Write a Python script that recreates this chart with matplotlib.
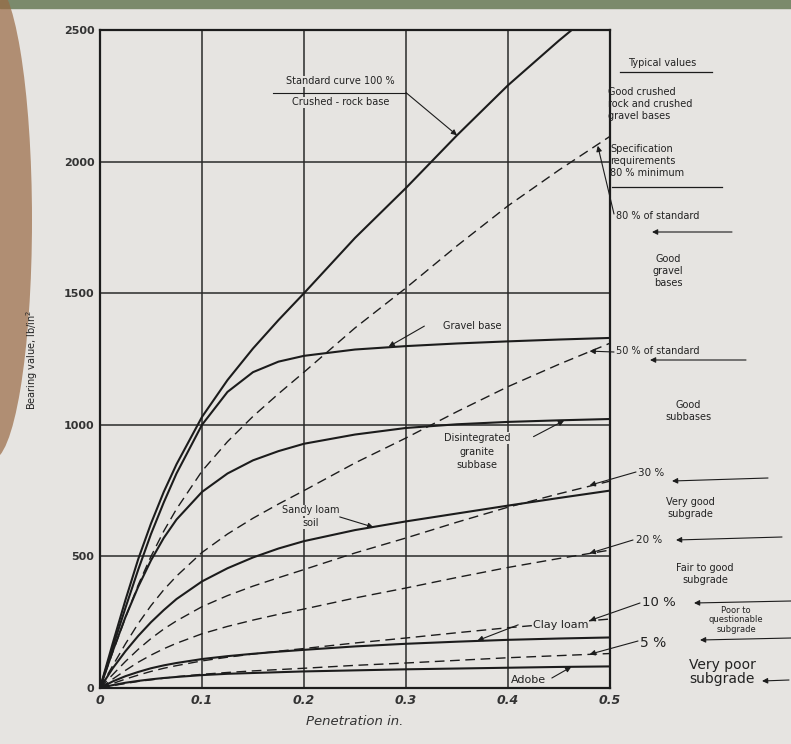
import matplotlib.pyplot as plt
from matplotlib.patches import Rectangle, Ellipse
from matplotlib.lines import Line2D

# penetration (in.) where the curves were read
pen = [0, 0.0125, 0.025, 0.0375, 0.05, 0.0625, 0.075, 0.1, 0.125, 0.15, 0.175,
       0.2, 0.25, 0.3, 0.35, 0.4, 0.45, 0.5]

# solid curves, bearing value lb/in^2
standard = [0, 170, 335, 490, 625, 745, 850, 1030, 1170, 1290, 1398,
            1500, 1710, 1900, 2100, 2290, 2460, 2620]
gravel_base = [0, 155, 305, 450, 585, 705, 815, 1000, 1125, 1200, 1240,
               1262, 1286, 1299, 1309, 1317, 1324, 1330]
granite_subbase = [0, 140, 270, 385, 485, 570, 640, 745, 815, 865, 900,
                   928, 963, 988, 1002, 1011, 1017, 1022]
sandy_loam = [0, 75, 140, 198, 250, 296, 338, 405, 455, 496, 530,
              558, 600, 633, 663, 693, 722, 750]
clay_loam = [0, 25, 45, 61, 75, 86, 95, 110, 121, 130, 138,
             145, 158, 168, 176, 183, 188, 192]
adobe = [0, 11, 20, 27, 33, 38, 42, 49, 54, 57, 60,
         63, 67, 71, 74, 77, 80, 82]

# dashed curves, percent of standard
pct80 = [0, 136, 268, 392, 500, 596, 680, 824, 936, 1032, 1118,
         1200, 1368, 1520, 1680, 1832, 1968, 2096]
pct50 = [0, 85, 168, 245, 313, 373, 425, 515, 585, 645, 699,
         750, 855, 950, 1050, 1145, 1230, 1310]
pct30 = [0, 51, 101, 147, 188, 224, 255, 309, 351, 387, 419,
         450, 513, 570, 630, 687, 738, 786]
pct20 = [0, 34, 67, 98, 125, 149, 170, 206, 234, 258, 280,
         300, 342, 380, 420, 458, 492, 524]
pct10 = [0, 17, 34, 49, 63, 75, 85, 103, 117, 129, 140,
         150, 171, 190, 210, 229, 246, 262]
pct5 = [0, 9, 17, 25, 31, 37, 43, 52, 59, 65, 70,
        75, 86, 95, 105, 115, 123, 131]

yticks = [0, 500, 1000, 1500, 2000, 2500]
xticks = [0, 0.1, 0.2, 0.3, 0.4, 0.5]

W, H = 791, 744
paper = '#e6e4e1'
ink = '#1c1c1c'


def fp(x, y):
    # figure pixel (from top-left) -> figure fraction
    return (x / W, 1 - y / H)


fig = plt.figure(figsize=(W / 100, H / 100), dpi=100)
fig.patch.set_facecolor(paper)
fig.patches.append(Rectangle((0, 1 - 8 / H), 1, 8 / H, transform=fig.transFigure,
                             color='#7b8a6c', zorder=0))
fig.patches.append(Ellipse(fp(-8, 220), 80 / W, 480 / H, transform=fig.transFigure,
                           color='#9a6a44', alpha=0.7, lw=0, zorder=0))

ax = fig.add_axes([100 / W, 1 - 688 / H, 510 / W, 658 / H])
ax.set_facecolor(paper)
ax.set_xlim(0, 0.5)
ax.set_ylim(0, 2500)

for v in yticks[1:-1]:
    ax.axhline(v, color='#2a2a2a', lw=1.1, zorder=1)
for v in xticks[1:-1]:
    ax.axvline(v, color='#2a2a2a', lw=1.1, zorder=1)
for s in ax.spines.values():
    s.set_linewidth(1.6)
    s.set_color(ink)

solid_kw = dict(color=ink, lw=1.5, zorder=3, solid_joinstyle='round')
dash_kw = dict(color=ink, lw=1.0, ls=(0, (7, 4)), zorder=3)
for ys in [standard, gravel_base, granite_subbase, sandy_loam, clay_loam, adobe]:
    ax.plot(pen, ys, **solid_kw)
for ys in [pct80, pct50, pct30, pct20, pct10, pct5]:
    ax.plot(pen, ys, **dash_kw)

ax.set_xticks(xticks)
ax.set_yticks(yticks)
ax.set_xticklabels(['0', '0.1', '0.2', '0.3', '0.4', '0.5'], fontstyle='italic',
                   fontsize=9, fontweight='bold', color='#333')
ax.set_yticklabels([str(v) for v in yticks], fontsize=8, fontweight='bold', color='#333')
ax.tick_params(length=0, pad=4)
ax.set_xlabel('Penetration in.', fontstyle='italic', fontsize=9.5, color='#333', labelpad=6)
fig.text(*fp(32, 360), 'Bearing value, lb/in$^2$', rotation=90, fontsize=7,
         ha='center', va='center', color='#222')

box = dict(facecolor=paper, edgecolor='none', pad=0.5)
arrow = dict(arrowstyle='-|>', color=ink, lw=0.8, mutation_scale=8, shrinkA=0, shrinkB=0)
tkw = dict(fontsize=7, color='#222', ha='center', va='center', zorder=5)

# labels inside the plot
ax.text(0.236, 2305, 'Standard curve 100 %', bbox=box, **tkw)
ax.text(0.236, 2225, 'Crushed - rock base', bbox=box, **tkw)
ax.plot([0.17, 0.30], [2262, 2262], color=ink, lw=0.8, zorder=5)
ax.annotate('', xy=(0.35, 2100), xytext=(0.30, 2262), arrowprops=arrow,
            annotation_clip=False)

ax.text(0.365, 1375, 'Gravel base', bbox=box, **tkw)
ax.annotate('', xy=(0.283, 1297), xytext=(0.318, 1375), arrowprops=arrow)

ax.text(0.37, 950, 'Disintegrated', bbox=box, **tkw)
ax.text(0.37, 896, 'granite', bbox=box, **tkw)
ax.text(0.37, 846, 'subbase', bbox=box, **tkw)
ax.annotate('', xy=(0.455, 1016), xytext=(0.425, 955), arrowprops=arrow)

ax.text(0.207, 675, 'Sandy loam', bbox=box, **tkw)
ax.text(0.207, 625, 'soil', bbox=box, **tkw)
ax.annotate('', xy=(0.268, 611), xytext=(0.235, 650), arrowprops=arrow)

ax.text(0.452, 240, 'Clay loam', bbox=box, fontsize=8, color='#222', ha='center',
        va='center', zorder=5)
ax.annotate('', xy=(0.37, 180), xytext=(0.41, 240), arrowprops=arrow)

ax.text(0.42, 32, 'Adobe', bbox=box, fontsize=8, color='#222', ha='center',
        va='center', zorder=5)
ax.annotate('', xy=(0.462, 80), xytext=(0.443, 38), arrowprops=arrow)

# right-hand column
rkw = dict(fontsize=7, color='#222', ha='center', va='center')
fig.text(*fp(662, 63), 'Typical values', **rkw)
fig.add_artist(Line2D([620 / W, 712 / W], [1 - 72 / H] * 2, color=ink, lw=0.9))
fig.text(*fp(608, 104), 'Good crushed\nrock and crushed\ngravel bases', fontsize=7,
         color='#222', ha='left', va='center', linespacing=1.25)
fig.text(*fp(610, 161), 'Specification\nrequirements\n80 % minimum', fontsize=7,
         color='#222', ha='left', va='center', linespacing=1.25)
fig.add_artist(Line2D([612 / W, 722 / W], [1 - 187 / H] * 2, color=ink, lw=0.9))

fig.text(*fp(616, 216), '80 % of standard', fontsize=7, color='#222', ha='left', va='center')
ax.annotate('', xy=(0.488, 2060), xytext=fp(614, 214), textcoords='figure fraction',
            arrowprops=arrow, annotation_clip=False)
ax.annotate('', xy=fp(652, 232), xycoords='figure fraction', xytext=fp(732, 232),
            arrowprops=arrow, annotation_clip=False)
fig.text(*fp(668, 271), 'Good\ngravel\nbases', **rkw, linespacing=1.2)

fig.text(*fp(616, 351), '50 % of standard', fontsize=7, color='#222', ha='left', va='center')
ax.annotate('', xy=(0.48, 1280), xytext=fp(614, 352), textcoords='figure fraction',
            arrowprops=arrow, annotation_clip=False)
ax.annotate('', xy=fp(650, 360), xycoords='figure fraction', xytext=fp(746, 360),
            arrowprops=arrow, annotation_clip=False)
fig.text(*fp(688, 411), 'Good\nsubbases', **rkw, linespacing=1.2)

fig.text(*fp(638, 473), '30 %', fontsize=7.5, color='#222', ha='left', va='center')
ax.annotate('', xy=(0.48, 770), xytext=fp(636, 472), textcoords='figure fraction',
            arrowprops=arrow, annotation_clip=False)
ax.annotate('', xy=fp(672, 481), xycoords='figure fraction', xytext=fp(768, 478),
            arrowprops=arrow, annotation_clip=False)
fig.text(*fp(690, 508), 'Very good\nsubgrade', **rkw, linespacing=1.2)

fig.text(*fp(636, 540), '20 %', fontsize=7.5, color='#222', ha='left', va='center')
ax.annotate('', xy=(0.48, 512), xytext=fp(633, 540), textcoords='figure fraction',
            arrowprops=arrow, annotation_clip=False)
ax.annotate('', xy=fp(676, 540), xycoords='figure fraction', xytext=fp(782, 537),
            arrowprops=arrow, annotation_clip=False)
fig.text(*fp(705, 574), 'Fair to good\nsubgrade', **rkw, linespacing=1.2)

fig.text(*fp(642, 603), '10 %', fontsize=9.5, color='#222', ha='left', va='center')
ax.annotate('', xy=(0.48, 256), xytext=fp(640, 603), textcoords='figure fraction',
            arrowprops=arrow, annotation_clip=False)
ax.annotate('', xy=fp(694, 603), xycoords='figure fraction', xytext=fp(791, 601),
            arrowprops=arrow, annotation_clip=False)
fig.text(*fp(736, 620), 'Poor to\nquestionable\nsubgrade', fontsize=6, color='#222',
         ha='center', va='center', linespacing=1.05)
ax.annotate('', xy=fp(700, 640), xycoords='figure fraction', xytext=fp(791, 638),
            arrowprops=arrow, annotation_clip=False)

fig.text(*fp(640, 643), '5 %', fontsize=10, color='#222', ha='left', va='center')
ax.annotate('', xy=(0.48, 128), xytext=fp(638, 641), textcoords='figure fraction',
            arrowprops=arrow, annotation_clip=False)
fig.text(*fp(722, 672), 'Very poor\nsubgrade', fontsize=10, color='#222', ha='center',
         va='center', linespacing=1.0)
ax.annotate('', xy=fp(762, 681), xycoords='figure fraction', xytext=fp(789, 680),
            arrowprops=arrow, annotation_clip=False)

fig.savefig('out.png', dpi=100, facecolor=fig.get_facecolor())
